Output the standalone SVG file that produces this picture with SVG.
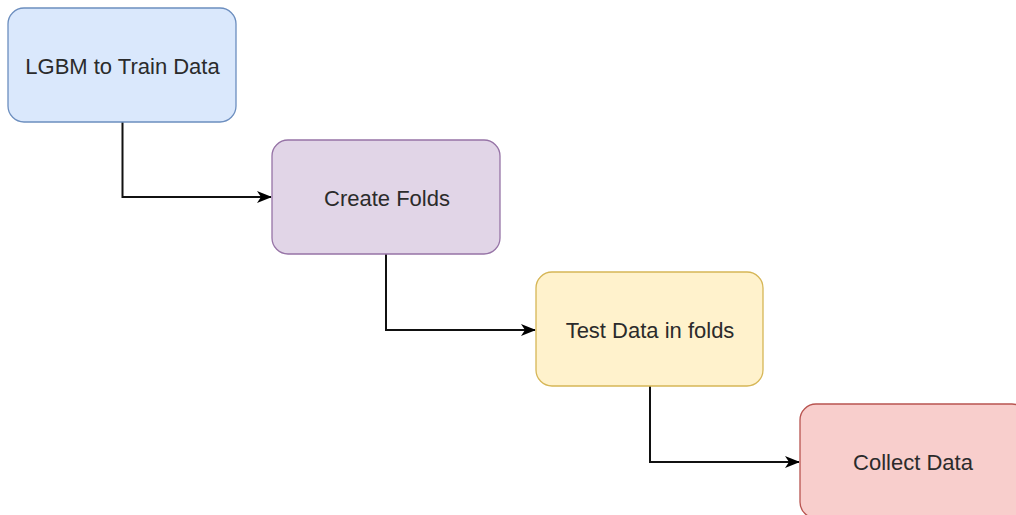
<svg xmlns="http://www.w3.org/2000/svg" width="1016" height="515" viewBox="0 0 1016 515">
  <defs>
    <style>
      .box { stroke-width: 1.3; }
      .label { font-family: "Liberation Sans", Arial, sans-serif; font-size: 22px; fill: #2b2b2b; text-anchor: middle; }
      .edge { fill: none; stroke: #111111; stroke-width: 2; }
    </style>
    <marker id="arrow" viewBox="0 0 15 12" refX="14" refY="6" markerWidth="15" markerHeight="12" markerUnits="userSpaceOnUse" orient="auto">
      <path d="M0,0 L15,6 L0,12 L4,6 Z" fill="#000000"/>
    </marker>
  </defs>
  <rect width="1016" height="515" fill="#ffffff"/>

  <!-- connectors -->
  <g id="connectors">
    <path class="edge" d="M122.5,122 V197 H271" marker-end="url(#arrow)"/>
    <path class="edge" d="M386,254 V330 H535" marker-end="url(#arrow)"/>
    <path class="edge" d="M650,386 V462 H799" marker-end="url(#arrow)"/>
  </g>

  <!-- nodes -->
  <g id="node-lgbm">
    <rect class="box" x="8" y="8" width="228" height="114" rx="16" fill="#dae8fc" stroke="#6c8ebf"/>
    <text class="label" x="122.5" y="74">LGBM to Train Data</text>
  </g>
  <g id="node-folds">
    <rect class="box" x="272" y="140" width="228" height="114" rx="16" fill="#e1d5e7" stroke="#9673a6"/>
    <text class="label" x="387" y="206">Create Folds</text>
  </g>
  <g id="node-test">
    <rect class="box" x="536" y="272" width="227" height="114" rx="16" fill="#fff2cc" stroke="#d6b656"/>
    <text class="label" x="650" y="338">Test Data in folds</text>
  </g>
  <g id="node-collect">
    <rect class="box" x="800" y="404" width="228" height="114" rx="16" fill="#f8cecc" stroke="#b85450"/>
    <text class="label" x="913" y="470">Collect Data</text>
  </g>
</svg>
